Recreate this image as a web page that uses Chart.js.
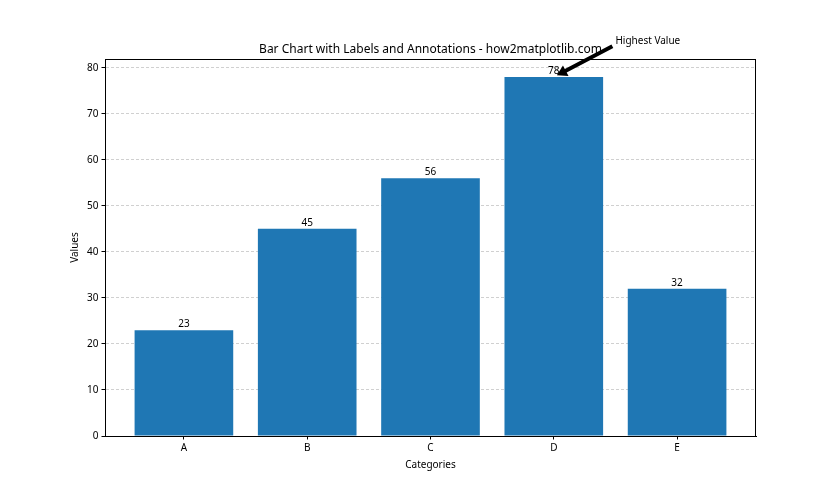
<!DOCTYPE html>
<html>
<head>
<meta charset="utf-8">
<script src="https://cdn.jsdelivr.net/npm/chart.js@4"></script>
<style>
  html, body { margin: 0; padding: 0; background: #fff; }
  #wrap { width: 840px; height: 490px; }
</style>
</head>
<body>
<div id="wrap"><canvas id="chart"></canvas></div>
<script>
const categories = ['A', 'B', 'C', 'D', 'E'];
const values = [23, 45, 56, 78, 32];
const yTicks = [0, 10, 20, 30, 40, 50, 60, 70, 80];
const chartTitle = 'Bar Chart with Labels and Annotations - how2matplotlib.com';
const noteText = 'Highest Value';
const notePoint = [3, 78];     // the bar being pointed at
const noteTextAt = [3.5, 85];  // where the note text sits

const FONT = '"Noto Sans", "DejaVu Sans", sans-serif';

// title, box frame, value labels and the arrow note
const extras = {
    id: 'extras',
    afterDatasetsDraw(chart) {
        const {ctx, chartArea: a, scales: {x, y}} = chart;
        ctx.save();

        // value labels
        ctx.fillStyle = '#000';
        ctx.font = '10px ' + FONT;
        ctx.textAlign = 'center';
        ctx.textBaseline = 'bottom';
        chart.getDatasetMeta(0).data.forEach((bar, i) => {
            ctx.fillText(String(values[i]), bar.x, bar.y - 1);
        });

        // frame on top / right
        ctx.strokeStyle = '#000';
        ctx.lineWidth = 1;
        ctx.strokeRect(a.left + 0.5, a.top + 0.5, a.right - a.left - 1, a.bottom - a.top);

        // title
        ctx.font = '12px ' + FONT;
        ctx.textBaseline = 'middle';
        ctx.fillText(chartTitle, (a.left + a.right) / 2, a.top - 9);

        // note text
        const tx = x.getPixelForValue(noteTextAt[0]);
        const ty = y.getPixelForValue(noteTextAt[1]);
        ctx.textAlign = 'left';
        ctx.textBaseline = 'alphabetic';
        ctx.font = '10px ' + FONT;
        ctx.fillText(noteText, tx, ty - 1);

        // arrow
        const px = x.getPixelForValue(notePoint[0]);
        const py = y.getPixelForValue(notePoint[1]);
        const dx = px - tx, dy = py - ty;
        const x0 = tx + dx * 0.05, y0 = ty + dy * 0.05;
        const x1 = px - dx * 0.05, y1 = py - dy * 0.05;
        const len = Math.hypot(x1 - x0, y1 - y0);
        const ux = (x1 - x0) / len, uy = (y1 - y0) / len;
        const nx = -uy, ny = ux;
        const hw = 2, headW = 6, headL = 10;
        const bx = x1 - ux * headL, by = y1 - uy * headL;
        ctx.beginPath();
        ctx.moveTo(x0 + nx * hw, y0 + ny * hw);
        ctx.lineTo(bx + nx * hw, by + ny * hw);
        ctx.lineTo(bx + nx * headW, by + ny * headW);
        ctx.lineTo(x1, y1);
        ctx.lineTo(bx - nx * headW, by - ny * headW);
        ctx.lineTo(bx - nx * hw, by - ny * hw);
        ctx.lineTo(x0 - nx * hw, y0 - ny * hw);
        ctx.closePath();
        ctx.fill();

        ctx.restore();
    }
};

new Chart(document.getElementById('chart'), {
    type: 'bar',
    data: {
        datasets: [{
            data: values.map((v, i) => ({x: i, y: v})),
            backgroundColor: '#1f77b4',
            borderWidth: 0,
            categoryPercentage: 1,
            barPercentage: 0.8
        }]
    },
    options: {
        responsive: true,
        maintainAspectRatio: false,
        animation: false,
        layout: {padding: {top: 59, right: 84, bottom: 0, left: 0}},
        plugins: {legend: {display: false}, tooltip: {enabled: false}},
        scales: {
            x: {
                type: 'linear',
                offset: false,
                min: -0.64,
                max: 4.64,
                afterBuildTicks: s => { s.ticks = categories.map((c, i) => ({value: i})); },
                afterFit: s => { s.height = 54; },
                ticks: {
                    callback: v => categories[v],
                    color: '#000',
                    font: {family: FONT, size: 10},
                    padding: 3,
                    maxRotation: 0
                },
                grid: {offset: false, drawOnChartArea: false, tickLength: 3.5, tickColor: '#000'},
                border: {color: '#000'},
                title: {
                    display: true,
                    text: 'Categories',
                    color: '#000',
                    font: {family: FONT, size: 10},
                    padding: {top: 0, bottom: 19}
                }
            },
            y: {
                min: 0,
                max: 81.9,
                afterBuildTicks: s => { s.ticks = yTicks.map(v => ({value: v})); },
                afterFit: s => { s.width = 105; },
                ticks: {
                    color: '#000',
                    font: {family: FONT, size: 10},
                    padding: 3
                },
                grid: {
                    color: 'rgba(176,176,176,0.6)',
                    tickLength: 3.5,
                    tickColor: '#000',
                    tickBorderDash: []
                },
                border: {color: '#000', dash: [3, 2]},
                title: {
                    display: true,
                    text: 'Values',
                    color: '#000',
                    font: {family: FONT, size: 10},
                    padding: {top: 69, bottom: 0}
                }
            }
        }
    },
    plugins: [extras]
});
</script>
</body>
</html>
